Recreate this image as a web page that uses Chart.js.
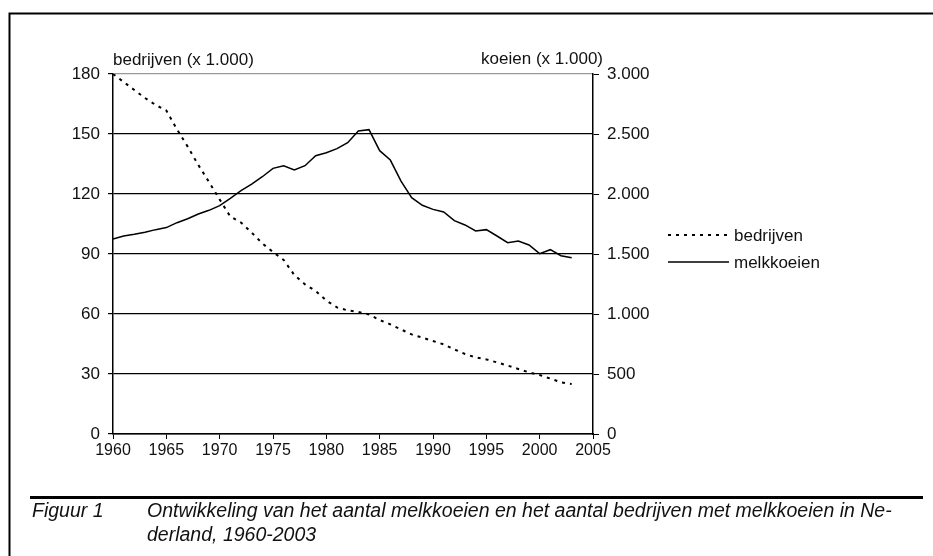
<!DOCTYPE html>
<html>
<head>
<meta charset="utf-8">
<script src="https://cdn.jsdelivr.net/npm/chart.js@4"></script>
<style>
  body { margin: 0; background: #fff; }
  canvas { display: block; }
</style>
</head>
<body>
<canvas id="melkChart" width="933" height="556"></canvas>
<script>
// jaren 1960-2003
const jaren = [1960,1961,1962,1963,1964,1965,1966,1967,1968,1969,1970,1971,1972,1973,1974,1975,1976,1977,1978,1979,1980,1981,1982,1983,1984,1985,1986,1987,1988,1989,1990,1991,1992,1993,1994,1995,1996,1997,1998,1999,2000,2001,2002,2003];
// bedrijven met melkkoeien (x 1.000)
const bedrijven = [180,176,172,168,164.5,161.7,152.3,143.7,134.5,126,117.3,108.7,105.7,100.7,95.3,91,87,79.5,74.8,71.5,66.7,63.3,61.8,61,59.8,57,54.8,52.3,49.8,48.2,46.5,44.8,42.3,40,38.3,37.3,35.8,34.2,32.5,30.8,29.5,27.7,25.8,25];
// melkkoeien (x 1.000)
const melkkoeien = [1625,1650,1664,1681,1703,1720,1761,1794,1833,1864,1903,1964,2028,2083,2144,2214,2236,2200,2236,2319,2344,2378,2428,2525,2536,2361,2283,2108,1969,1906,1872,1850,1778,1742,1692,1703,1650,1594,1608,1575,1503,1536,1486,1469];

const xTicks = [1960,1965,1970,1975,1980,1985,1990,1995,2000,2005];
const yLinksTicks = [0,30,60,90,120,150,180];
const yRechtsTicks = [0,500,1000,1500,2000,2500,3000];

const FONT = "'Liberation Sans', Arial, sans-serif";

function duizend(v) {
  return String(v).replace(/\B(?=(\d{3})+(?!\d))/g, '.');
}

/* extra tekst, kader en legenda */
const extraPlugin = {
  id: 'extra',
  afterDraw(chart) {
    const ctx = chart.ctx;
    const area = chart.chartArea;
    ctx.save();
    // kader
    ctx.strokeStyle = '#000';
    ctx.lineWidth = 2;
    ctx.beginPath();
    ctx.moveTo(9.5, 556);
    ctx.lineTo(9.5, 13.5);
    ctx.lineTo(933, 13.5);
    ctx.stroke();
    // lijn boven bijschrift
    ctx.lineWidth = 3;
    ctx.beginPath();
    ctx.moveTo(30, 497.5);
    ctx.lineTo(923, 497.5);
    ctx.stroke();

    // as-titels
    ctx.fillStyle = '#111';
    ctx.font = '17px ' + FONT;
    ctx.textBaseline = 'middle';
    ctx.textAlign = 'left';
    ctx.fillText('bedrijven (x 1.000)', area.left, 60);
    ctx.textAlign = 'right';
    ctx.fillText('koeien (x 1.000)', 603, 59);

    // legenda
    ctx.lineWidth = 2;
    ctx.setLineDash([3, 5]);
    ctx.beginPath();
    ctx.moveTo(668, 235);
    ctx.lineTo(729, 235);
    ctx.stroke();
    ctx.setLineDash([]);
    ctx.lineWidth = 1.5;
    ctx.beginPath();
    ctx.moveTo(668, 262);
    ctx.lineTo(729, 262);
    ctx.stroke();
    ctx.textAlign = 'left';
    ctx.fillText('bedrijven', 734, 236);
    ctx.fillText('melkkoeien', 734, 263);

    // bijschrift
    ctx.font = 'italic 19.5px ' + FONT;
    ctx.fillText('Figuur 1', 32, 512);
    ctx.fillText('Ontwikkeling van het aantal melkkoeien en het aantal bedrijven met melkkoeien in Ne-', 147, 512);
    ctx.fillText('derland, 1960-2003', 147, 536);
    ctx.restore();
  }
};

document.addEventListener('DOMContentLoaded', () => {
  const ctx = document.getElementById('melkChart').getContext('2d');
  new Chart(ctx, {
    type: 'line',
    data: {
      datasets: [{
        label: 'bedrijven',
        data: jaren.map((j, i) => ({ x: j, y: bedrijven[i] })),
        yAxisID: 'yLinks',
        borderColor: '#000',
        borderWidth: 2,
        borderDash: [3, 5],
        pointRadius: 0,
        tension: 0
      }, {
        label: 'melkkoeien',
        data: jaren.map((j, i) => ({ x: j, y: melkkoeien[i] })),
        yAxisID: 'yRechts',
        borderColor: '#000',
        borderWidth: 1.5,
        pointRadius: 0,
        tension: 0
      }]
    },
    options: {
      responsive: false,
      animation: false,
      layout: { padding: { top: 74, left: 0, right: 0, bottom: 0 } },
      plugins: {
        legend: { display: false },
        tooltip: { enabled: false }
      },
      scales: {
        x: {
          type: 'linear',
          min: 1960,
          max: 2005,
          afterFit: (s) => { s.height = 122; },
          afterBuildTicks: (s) => { s.ticks = xTicks.map(v => ({ value: v })); },
          ticks: { color: '#111', font: { family: FONT, size: 16 }, padding: 2, maxRotation: 0, callback: v => String(v) },
          grid: { drawOnChartArea: false, tickLength: 5, color: '#000' },
          border: { color: '#000', width: 1.5 }
        },
        yLinks: {
          position: 'left',
          min: 0,
          max: 180,
          afterFit: (s) => { s.width = 113; },
          afterBuildTicks: (s) => { s.ticks = yLinksTicks.map(v => ({ value: v })); },
          ticks: { color: '#111', font: { family: FONT, size: 17 }, padding: 8 },
          grid: {
            tickLength: 5,
            color: c => (c.tick && c.tick.value === 180) ? '#999' : '#000',
            tickColor: '#000',
            lineWidth: 1.2
          },
          border: { color: '#000', width: 1.5 }
        },
        yRechts: {
          position: 'right',
          min: 0,
          max: 3000,
          afterFit: (s) => { s.width = 340; },
          afterBuildTicks: (s) => { s.ticks = yRechtsTicks.map(v => ({ value: v })); },
          ticks: { color: '#111', font: { family: FONT, size: 17 }, padding: 8, callback: v => duizend(v) },
          grid: { drawOnChartArea: false, tickLength: 6, color: '#000' },
          border: { color: '#000', width: 1.5 }
        }
      }
    },
    plugins: [extraPlugin]
  });
});
</script>
</body>
</html>
